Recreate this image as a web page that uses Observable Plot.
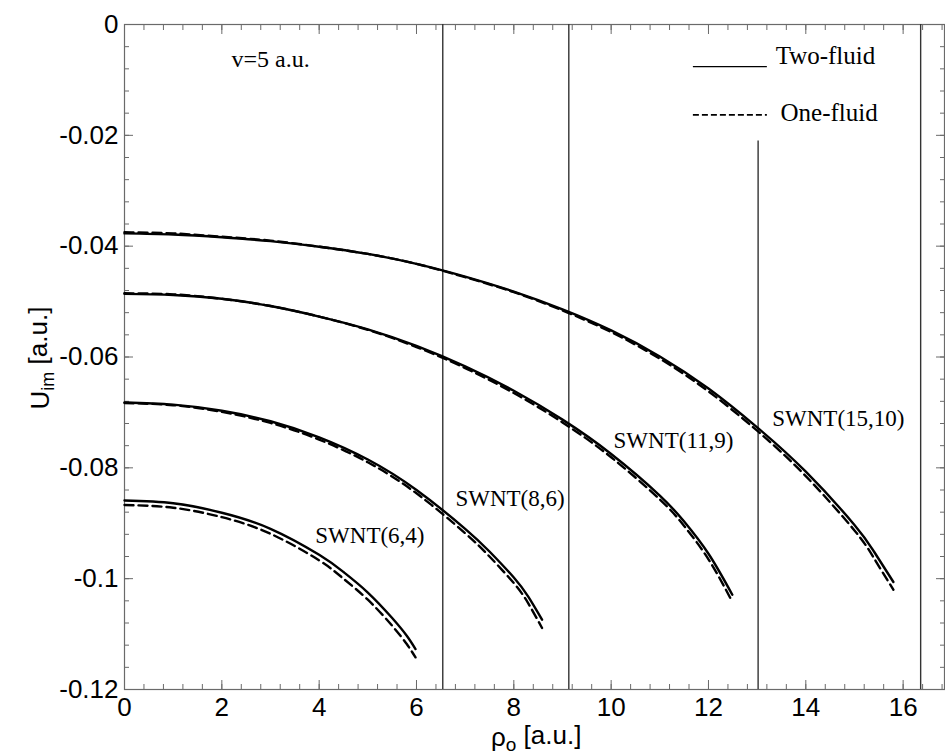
<!DOCTYPE html>
<html><head><meta charset="utf-8">
<script src="https://cdn.jsdelivr.net/npm/d3@7"></script>
<script src="https://cdn.jsdelivr.net/npm/@observablehq/plot@0.6"></script>
<style>body{margin:0;background:#fff}#chart{width:945px;height:755px}</style>
</head><body><div id="chart"></div>
<script>
// ---- data ----
const tubes = ["SWNT(15,10)", "SWNT(11,9)", "SWNT(8,6)", "SWNT(6,4)"];

const rho_15_10 = [0, 1, 2, 3, 4, 5, 6, 7, 8, 9, 10, 11, 12, 13, 14, 15, 15.4, 15.8];
const two_15_10 = [-0.0377, -0.0379, -0.0384, -0.0391, -0.0401, -0.0414, -0.0432, -0.0455, -0.0482, -0.0514, -0.0552, -0.0599, -0.0657, -0.0727, -0.0807, -0.0903, -0.0951, -0.1006];
const one_15_10 = [-0.0375, -0.0377, -0.0383, -0.0390, -0.0401, -0.0414, -0.0432, -0.0456, -0.0483, -0.0516, -0.0555, -0.0603, -0.0662, -0.0733, -0.0815, -0.0913, -0.0963, -0.1020];

const rho_11_9 = [0, 1, 2, 3, 4, 5, 6, 7, 8, 9, 10, 11, 11.5, 12, 12.49];
const two_11_9 = [-0.0486, -0.0488, -0.0495, -0.0508, -0.0527, -0.0550, -0.0580, -0.0617, -0.0661, -0.0713, -0.0775, -0.0850, -0.0897, -0.0955, -0.1029];
const one_11_9 = [-0.0485, -0.0487, -0.0495, -0.0508, -0.0527, -0.0551, -0.0582, -0.0620, -0.0665, -0.0718, -0.0781, -0.0857, -0.0905, -0.0965, -0.1042];

const rho_8_6 = [0, 1, 2, 3, 4, 5, 6, 7, 7.5, 8, 8.3, 8.58];
const two_8_6 = [-0.0682, -0.0686, -0.0697, -0.0716, -0.0745, -0.0785, -0.0840, -0.0910, -0.0951, -0.0998, -0.1033, -0.1074];
const one_8_6 = [-0.0683, -0.0687, -0.0699, -0.0719, -0.0749, -0.0790, -0.0846, -0.0918, -0.0960, -0.1008, -0.1045, -0.1089];

const rho_6_4 = [0, 1, 2, 3, 4, 4.5, 5, 5.5, 5.8, 5.98];
const two_6_4 = [-0.0859, -0.0864, -0.0881, -0.0910, -0.0957, -0.0988, -0.1025, -0.1071, -0.1103, -0.1127];
const one_6_4 = [-0.0867, -0.0872, -0.0889, -0.0919, -0.0967, -0.1000, -0.1038, -0.1085, -0.1118, -0.1142];

const tubeRadii = [6.54, 9.13, 13.02, 16.36];

const xTicks = [0, 2, 4, 6, 8, 10, 12, 14, 16];
const yTicks = [-0.12, -0.1, -0.08, -0.06, -0.04, -0.02, 0];
const yTickLabels = ["-0.12", "-0.1", "-0.08", "-0.06", "-0.04", "-0.02", "0"];
const legendLabels = ["Two-fluid", "One-fluid"];
const noteLabel = "v=5 a.u.";

// ---- build table ----
const sets = [
  [tubes[0], rho_15_10, two_15_10, one_15_10],
  [tubes[1], rho_11_9, two_11_9, one_11_9],
  [tubes[2], rho_8_6, two_8_6, one_8_6],
  [tubes[3], rho_6_4, two_6_4, one_6_4]
];
const rows = [];
for (const [tube, xs, two, one] of sets) {
  xs.forEach((x, i) => {
    rows.push({tube, model: "two", x, y: two[i]});
    rows.push({tube, model: "one", x, y: one[i]});
  });
}
const xMinor = d3.range(0, 43).map(i => +(i * 0.4).toFixed(1)).filter(v => v <= 16.85);
const yMinor = d3.range(0, 31).map(i => +(-0.12 + i * 0.004).toFixed(3));

const serif = "Liberation Serif";
const axisGray = "#6a6a6a";
const noFmt = () => "";
const MAJ = 9, MIN = 5;

const chart = Plot.plot({
  width: 945,
  height: 755,
  marginLeft: 124,
  marginTop: 24,
  marginBottom: 66,
  marginRight: 1,
  style: {fontFamily: "Liberation Sans", fontSize: "26px", background: "#fff", color: "#000"},
  x: {domain: [0, 16.85]},
  y: {domain: [-0.12, 0]},
  marks: [
    Plot.frame({stroke: axisGray, strokeWidth: 1.2}),
    // inward ticks on all four sides (drawn outward, shifted inside by their length)
    Plot.axisX({ticks: xMinor, tickSize: MIN, dy: -MIN, tickFormat: noFmt, stroke: axisGray, label: null}),
    Plot.axisX({ticks: xTicks, tickSize: MAJ, dy: -MAJ, tickFormat: noFmt, stroke: axisGray, label: null}),
    Plot.axisX({anchor: "top", ticks: xMinor, tickSize: MIN, dy: MIN, tickFormat: noFmt, stroke: axisGray, label: null}),
    Plot.axisX({anchor: "top", ticks: xTicks, tickSize: MAJ, dy: MAJ, tickFormat: noFmt, stroke: axisGray, label: null}),
    Plot.axisY({ticks: yMinor, tickSize: MIN, dx: MIN, tickFormat: noFmt, stroke: axisGray, label: null}),
    Plot.axisY({ticks: yTicks, tickSize: MAJ, dx: MAJ, tickFormat: noFmt, stroke: axisGray, label: null}),
    Plot.axisY({anchor: "right", ticks: yMinor, tickSize: MIN, dx: -MIN, tickFormat: noFmt, stroke: axisGray, label: null}),
    Plot.axisY({anchor: "right", ticks: yTicks, tickSize: MAJ, dx: -MAJ, tickFormat: noFmt, stroke: axisGray, label: null}),
    // tick labels
    Plot.axisX({ticks: xTicks, tickSize: 0, tickPadding: 8, fontSize: 26, label: null, tickFormat: d => String(d)}),
    Plot.axisY({ticks: yTicks, tickSize: 0, tickPadding: 6, fontSize: 26, label: null,
      tickFormat: d => yTickLabels[yTicks.indexOf(d)]}),
    // tube radius lines
    Plot.ruleX(tubeRadii, {x: d => d, y1: (d, i) => i === 2 ? -0.021 : 0, y2: -0.12, stroke: "#333", strokeWidth: 1.4}),
    // curves
    Plot.line(rows.filter(d => d.model === "two"), {x: "x", y: "y", z: "tube", curve: "natural", stroke: "#000", strokeWidth: 2.4}),
    Plot.line(rows.filter(d => d.model === "one"), {x: "x", y: "y", z: "tube", curve: "natural", stroke: "#000", strokeWidth: 2.4, strokeDasharray: "9,5"}),
    // curve labels
    Plot.text([tubes[3]], {x: 3.92, y: -0.0922, text: d => d, textAnchor: "start", fontFamily: serif, fontSize: 23}),
    Plot.text([tubes[2]], {x: 6.80, y: -0.0855, text: d => d, textAnchor: "start", fontFamily: serif, fontSize: 23}),
    Plot.text([tubes[1]], {x: 10.05, y: -0.0751, text: d => d, textAnchor: "start", fontFamily: serif, fontSize: 23}),
    Plot.text([tubes[0]], {x: 13.31, y: -0.0711, text: d => d, textAnchor: "start", fontFamily: serif, fontSize: 23}),
    Plot.text([noteLabel], {x: 2.2, y: -0.0062, text: d => d, textAnchor: "start", fontFamily: serif, fontSize: 24}),
    // legend
    Plot.ruleY([-0.0076], {y: d => d, x1: 11.69, x2: 13.21, stroke: "#000", strokeWidth: 1.3}),
    Plot.ruleY([-0.0163], {y: d => d, x1: 11.69, x2: 13.21, stroke: "#000", strokeWidth: 1.8, strokeDasharray: "6,3"}),
    Plot.text([legendLabels[0]], {x: 13.38, y: -0.0057, text: d => d, textAnchor: "start", fontFamily: serif, fontSize: 25}),
    Plot.text([legendLabels[1]], {x: 13.48, y: -0.0160, text: d => d, textAnchor: "start", fontFamily: serif, fontSize: 25})
  ]
});

const svg = d3.select(chart);
// y axis label with subscript
const yl = svg.append("text")
  .attr("transform", "translate(49,358) rotate(-90)")
  .attr("text-anchor", "middle")
  .attr("font-family", "Liberation Sans")
  .attr("font-size", 26)
  .attr("fill", "#000");
yl.append("tspan").text("U");
yl.append("tspan").attr("font-size", 18).attr("dy", "0.3em").text("im");
yl.append("tspan").attr("dy", "-0.3em").text(" [a.u.]");
// x axis label with subscript
const xl = svg.append("text")
  .attr("x", 491).attr("y", 746)
  .attr("text-anchor", "start")
  .attr("font-family", "Liberation Sans")
  .attr("font-size", 26)
  .attr("fill", "#000");
xl.append("tspan").text("ρ");
xl.append("tspan").attr("font-size", 19).attr("dy", "0.28em").text("o");
xl.append("tspan").attr("dy", "-0.28em").text(" [a.u.]");

document.getElementById("chart").appendChild(chart);
</script>
</body></html>
